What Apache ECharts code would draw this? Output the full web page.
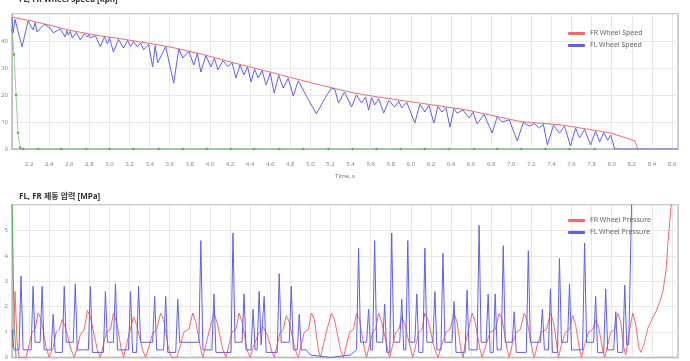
<!DOCTYPE html>
<html>
<head>
<meta charset="utf-8">
<script src="https://cdn.jsdelivr.net/npm/echarts@6/dist/echarts.min.js"></script>
<style>
  html, body { margin: 0; padding: 0; background: #fff; }
  #chart { width: 690px; height: 361px; }
</style>
</head>
<body>
<div id="chart"></div>
<script>
// tick labels on the time axis
var timeTicks = [2.2, 2.4, 2.6, 2.8, 3.0, 3.2, 3.4, 3.6, 3.8, 4.0, 4.2, 4.4, 4.6, 4.8, 5.0,
    5.2, 5.4, 5.6, 5.8, 6.0, 6.2, 6.4, 6.6, 6.8, 7.0, 7.2, 7.4, 7.6, 7.8, 8.0, 8.2, 8.4, 8.6];

// FR wheel speed [kph]
var frSpeed = [[2.03, 48.9], [2.1, 48.3], [2.2, 47.6], [2.3, 46.8], [2.4, 45.9], [2.5, 44.9],
    [2.6, 44.0], [2.7, 43.3], [2.8, 42.6], [2.9, 42.0], [3.0, 41.4], [3.1, 40.9], [3.2, 40.3],
    [3.3, 39.7], [3.4, 39.1], [3.5, 38.5], [3.6, 37.8], [3.7, 37.0], [3.8, 36.1], [3.9, 35.3],
    [4.0, 34.3], [4.1, 33.3], [4.2, 32.3], [4.3, 31.3], [4.4, 30.4], [4.5, 29.4], [4.6, 28.5],
    [4.7, 27.5], [4.8, 26.5], [4.9, 25.6], [5.0, 24.6], [5.1, 23.7], [5.2, 22.8], [5.3, 21.9],
    [5.4, 21.0], [5.5, 20.3], [5.6, 19.7], [5.7, 19.1], [5.8, 18.6], [5.9, 18.0], [6.0, 17.5],
    [6.1, 17.0], [6.2, 16.4], [6.3, 15.9], [6.4, 15.3], [6.5, 14.8], [6.6, 14.1], [6.7, 13.3],
    [6.8, 12.5], [6.9, 11.7], [7.0, 10.9], [7.1, 10.1], [7.2, 9.8], [7.3, 9.5], [7.4, 9.2],
    [7.5, 8.9], [7.6, 8.3], [7.7, 7.7], [7.8, 7.1], [7.9, 6.5], [8.0, 5.8], [8.1, 4.6],
    [8.2, 3.4], [8.23, 3.0], [8.26, 0]];

// FL wheel speed [kph]
var flSpeed = [[2.03, 48.6], [2.04, 43.0], [2.06, 48.0], [2.13, 37.8], [2.19, 47.4], [2.24, 44.1],
    [2.26, 46.8], [2.28, 43.3], [2.35, 46.2], [2.41, 44.8], [2.42, 45.5], [2.44, 43.0], [2.51, 44.5],
    [2.56, 41.5], [2.575, 43.9], [2.59, 42.2], [2.61, 43.6], [2.63, 41.1], [2.67, 43.2], [2.71, 40.4],
    [2.75, 42.7], [2.78, 41.5], [2.795, 42.4], [2.81, 41.1], [2.86, 42.0], [2.91, 37.8], [2.95, 41.5],
    [2.98, 39.0], [3.0, 41.2], [3.04, 35.9], [3.09, 40.6], [3.14, 37.4], [3.18, 40.2], [3.21, 38.0],
    [3.24, 39.7], [3.28, 37.8], [3.31, 39.3], [3.34, 36.7], [3.39, 38.8], [3.43, 30.4], [3.455, 38.3],
    [3.48, 31.9], [3.56, 37.9], [3.64, 24.4], [3.69, 37.1], [3.73, 33.7], [3.79, 36.2], [3.84, 31.1],
    [3.875, 35.4], [3.91, 28.5], [3.96, 34.6], [4.01, 30.4], [4.045, 33.6], [4.08, 29.3], [4.13, 32.7],
    [4.18, 30.5], [4.22, 32.0], [4.26, 26.3], [4.30, 31.1], [4.34, 27.4], [4.375, 30.4], [4.41, 24.8],
    [4.445, 29.6], [4.48, 26.3], [4.52, 29.0], [4.56, 23.7], [4.60, 28.2], [4.64, 20.7], [4.685, 27.3],
    [4.73, 22.6], [4.78, 26.2], [4.83, 19.6], [4.88, 25.3], [4.97, 19.0], [5.06, 13.0], [5.14, 18.5],
    [5.21, 22.6], [5.245, 22.0], [5.28, 17.0], [5.34, 21.1], [5.41, 15.6], [5.46, 20.0], [5.51, 17.0],
    [5.55, 19.3], [5.58, 14.4], [5.61, 19.0], [5.64, 16.3], [5.68, 18.6], [5.73, 13.3], [5.78, 17.9],
    [5.84, 15.6], [5.88, 17.7], [5.91, 15.2], [5.96, 17.3], [6.04, 9.6], [6.09, 16.6], [6.14, 13.7],
    [6.18, 16.2], [6.23, 9.6], [6.27, 15.8], [6.31, 13.7], [6.35, 15.3], [6.39, 8.1], [6.43, 15.0],
    [6.46, 13.3], [6.52, 14.4], [6.58, 11.5], [6.62, 13.6], [6.66, 9.3], [6.73, 12.8], [6.81, 5.9],
    [6.86, 11.9], [6.91, 10.0], [6.98, 10.8], [7.06, 3.0], [7.12, 9.8], [7.18, 8.5], [7.23, 9.4],
    [7.28, 7.8], [7.32, 9.1], [7.36, 1.5], [7.42, 8.8], [7.48, 5.9], [7.53, 8.4], [7.59, 1.1],
    [7.64, 7.8], [7.68, 4.1], [7.73, 7.2], [7.79, 1.5], [7.84, 6.6], [7.88, 2.6], [7.92, 6.1],
    [7.96, 3.3], [7.99, 5.2], [8.03, 0], [8.66, 0]];

// third speed channel (green, no legend entry)
var refSpeed = [[2.03, 44], [2.05, 35], [2.07, 20], [2.09, 6], [2.11, 0.5], [2.14, 0], [2.29, 0],
    [2.52, 0], [2.77, 0], [3.00, 0], [3.24, 0], [3.49, 0], [3.73, 0], [3.97, 0], [4.21, 0], [4.44, 0],
    [4.69, 0], [4.93, 0], [5.18, 0], [5.42, 0], [5.66, 0], [5.90, 0], [6.14, 0], [6.38, 0], [6.63, 0],
    [6.86, 0], [7.10, 0], [7.34, 0], [7.58, 0], [7.83, 0]];

// FR wheel pressure [MPa]
var frPressure = [[2.03, 0.4], [2.05, 1.2], [2.06, 2.6], [2.08, 0.6], [2.10, 0],
    [2.17, 0], [2.20, 0.5], [2.23, 1.0], [2.26, 1.1], [2.29, 1.75], [2.32, 1.5], [2.37, 0.4], [2.40, 0],
    [2.44, 0.4], [2.47, 1.0], [2.50, 1.1], [2.53, 1.5], [2.56, 1.2], [2.62, 0.3], [2.65, 0],
    [2.68, 0.4], [2.71, 0.9], [2.75, 1.1], [2.78, 1.85], [2.81, 1.6], [2.88, 0.3], [2.91, 0],
    [2.94, 0.5], [2.97, 1.0], [3.01, 1.1], [3.04, 1.75], [3.07, 1.4], [3.12, 0.3], [3.14, 0],
    [3.17, 0.5], [3.20, 1.0], [3.24, 1.6], [3.27, 1.3], [3.33, 0.3], [3.36, 0],
    [3.40, 0.5], [3.43, 0.95], [3.47, 1.1], [3.51, 1.75], [3.54, 1.5], [3.59, 0.3], [3.62, 0],
    [3.67, 0], [3.71, 0.5], [3.74, 1.0], [3.79, 1.1], [3.83, 1.75], [3.86, 1.4], [3.91, 0.3], [3.93, 0],
    [3.96, 0.5], [3.99, 1.0], [4.04, 1.75], [4.07, 1.4], [4.13, 0.3], [4.16, 0],
    [4.19, 0.5], [4.22, 1.0], [4.26, 1.1], [4.29, 1.75], [4.32, 1.4], [4.37, 0.3], [4.40, 0],
    [4.44, 0.5], [4.48, 0.9], [4.53, 1.2], [4.57, 0.9], [4.62, 0.2], [4.64, 0],
    [4.67, 0.5], [4.70, 1.0], [4.73, 1.1], [4.76, 1.65], [4.79, 1.4], [4.85, 0.3], [4.88, 0],
    [4.91, 0.5], [4.94, 1.0], [4.98, 1.1], [5.01, 1.75], [5.04, 1.5], [5.08, 0.3], [5.10, 0],
    [5.13, 0.5], [5.16, 1.0], [5.21, 1.75], [5.24, 1.5], [5.30, 0.3], [5.33, 0],
    [5.36, 0.5], [5.39, 1.0], [5.43, 1.1], [5.46, 1.75], [5.49, 1.5], [5.54, 0.3], [5.56, 0],
    [5.59, 0.5], [5.62, 1.0], [5.65, 1.1], [5.68, 1.75], [5.71, 1.4], [5.77, 0.3], [5.79, 0],
    [5.82, 0.5], [5.85, 1.0], [5.88, 1.1], [5.91, 1.6], [5.94, 1.3], [6.00, 0.3], [6.02, 0],
    [6.05, 0.5], [6.08, 1.0], [6.11, 1.1], [6.14, 1.75], [6.17, 1.5], [6.24, 0.3], [6.27, 0],
    [6.31, 0.5], [6.35, 1.0], [6.39, 1.1], [6.43, 1.75], [6.46, 1.4], [6.50, 0.3], [6.52, 0],
    [6.54, 0.5], [6.57, 1.0], [6.61, 1.75], [6.64, 1.4], [6.69, 0.3], [6.71, 0],
    [6.75, 0.5], [6.79, 1.0], [6.84, 1.1], [6.88, 1.75], [6.91, 1.5], [6.96, 0.3], [6.98, 0],
    [7.01, 0.5], [7.05, 1.0], [7.09, 1.1], [7.13, 1.75], [7.16, 1.4], [7.21, 0.3], [7.23, 0],
    [7.26, 0.5], [7.30, 1.0], [7.35, 1.1], [7.39, 1.75], [7.42, 1.4], [7.46, 0.3], [7.47, 0],
    [7.50, 0.5], [7.54, 1.0], [7.58, 1.1], [7.61, 1.65], [7.64, 1.3], [7.68, 0.3], [7.70, 0],
    [7.73, 0.5], [7.77, 1.0], [7.81, 1.1], [7.84, 1.45], [7.87, 1.2], [7.91, 0.3], [7.93, 0],
    [7.96, 0.5], [7.99, 1.0], [8.03, 1.1], [8.06, 1.75], [8.09, 1.4], [8.12, 0.4], [8.14, 0.1],
    [8.17, 0.9], [8.21, 1.75], [8.24, 1.3], [8.27, 0.4], [8.29, 0.2],
    [8.32, 0.5], [8.36, 1.15], [8.40, 1.5], [8.44, 1.8], [8.48, 2.2], [8.51, 2.6], [8.54, 3.4],
    [8.56, 4.5], [8.59, 5.9], [8.62, 6.5]];

// FL wheel pressure [MPa]
var flPressure = [[2.03, 1.1], [2.05, 0.3], [2.10, 0.3], [2.12, 3.2], [2.14, 0.3], [2.22, 0.3],
    [2.24, 2.8], [2.26, 0.6], [2.31, 0.6], [2.33, 2.8], [2.35, 0.3], [2.42, 0.3], [2.44, 1.7],
    [2.46, 0.2], [2.53, 0.2], [2.55, 2.8], [2.57, 0.6], [2.64, 0.6], [2.66, 2.9], [2.68, 0.3],
    [2.79, 0.3], [2.81, 2.8], [2.83, 0.2], [2.94, 0.2], [2.96, 2.6], [2.98, 0.6], [3.04, 0.6],
    [3.06, 2.9], [3.08, 0.3], [3.19, 0.3], [3.21, 2.6], [3.23, 0.2], [3.27, 0.2], [3.29, 2.8],
    [3.31, 0.6], [3.43, 0.6], [3.45, 2.4], [3.47, 0.3], [3.54, 0.3], [3.56, 2.4], [3.58, 0.2],
    [3.66, 0.2], [3.68, 2.3], [3.70, 0.6], [3.89, 0.6], [3.91, 4.6], [3.93, 0.3], [4.02, 0.3],
    [4.04, 2.5], [4.06, 0.2], [4.21, 0.2], [4.23, 4.9], [4.25, 0.6], [4.32, 0.6], [4.34, 2.5],
    [4.36, 0.3], [4.41, 0.3], [4.43, 1.9], [4.45, 0.3], [4.47, 0.3], [4.49, 2.6], [4.51, 0.5],
    [4.52, 0.5], [4.54, 2.4], [4.56, 0.2], [4.67, 0.2], [4.69, 3.3], [4.71, 0.6], [4.79, 0.6],
    [4.81, 2.8], [4.83, 0.3], [4.87, 0.3], [4.89, 1.7], [4.91, 0.3], [4.96, 0.3], [5.00, 0.1],
    [5.20, 0], [5.40, 0.1], [5.46, 0.3], [5.48, 4.3], [5.50, 0.6], [5.56, 0.6], [5.58, 1.9],
    [5.60, 0.3], [5.62, 0.3], [5.64, 4.6], [5.66, 0.6], [5.72, 0.6], [5.74, 2.1], [5.76, 0.2],
    [5.79, 0.2], [5.81, 4.9], [5.83, 0.6], [5.89, 0.6], [5.91, 2.3], [5.93, 0.3], [5.95, 0.3],
    [5.97, 4.6], [5.99, 0.6], [6.04, 0.6], [6.06, 2.5], [6.08, 0.2], [6.12, 0.2], [6.14, 4.3],
    [6.16, 0.6], [6.22, 0.6], [6.24, 2.6], [6.26, 0.3], [6.30, 0.3], [6.32, 4.1], [6.34, 0.6],
    [6.41, 0.6], [6.43, 2.2], [6.45, 0.2], [6.54, 0.2], [6.56, 2.65], [6.58, 0.3], [6.66, 0.3],
    [6.68, 5.2], [6.70, 0.6], [6.75, 0.6], [6.77, 2.5], [6.79, 0.2], [6.82, 0.2], [6.84, 2.5],
    [6.86, 0.3], [6.90, 0.3], [6.92, 4.4], [6.94, 0.6], [7.01, 0.6], [7.03, 1.8], [7.05, 0.2],
    [7.15, 0.2], [7.17, 4.2], [7.19, 0.6], [7.29, 0.6], [7.31, 1.9], [7.33, 0.3], [7.37, 0.3],
    [7.39, 2.7], [7.41, 0.2], [7.46, 0.2], [7.48, 3.9], [7.50, 0.6], [7.56, 0.6], [7.58, 2.9],
    [7.60, 0.3], [7.71, 0.3], [7.73, 4.5], [7.75, 0.6], [7.82, 0.6], [7.84, 2.4], [7.86, 0.2],
    [7.92, 0.2], [7.94, 2.7], [7.96, 0.3], [8.02, 0.3], [8.04, 1.8], [8.06, 0.2], [8.11, 0.2],
    [8.13, 2.85], [8.15, 0.5], [8.17, 0.5], [8.20, 6.5]];

// third pressure channel (green, no legend entry)
var refPressure = [[2.03, 6.3], [2.04, 4.0], [2.05, 1.5], [2.07, 0]];

var RED = '#f36a6a', BLUE = '#6060ee', GREEN = '#4cb64c';
var FONT = '"Noto Sans", "Noto Sans CJK KR", sans-serif';

var chart = echarts.init(document.getElementById('chart'));

function timeAxis(idx) {
    return {
        type: 'value', gridIndex: idx, min: 2.03, max: 8.66,
        name: 'Time, s', nameLocation: 'middle', nameGap: 24,
        nameTextStyle: { fontSize: 6, color: '#777', fontFamily: FONT },
        axisLine: { lineStyle: { color: '#bbb' } },
        axisTick: { show: false, customValues: timeTicks },
        axisLabel: {
            customValues: timeTicks, fontSize: 6, color: '#888', margin: 12, fontFamily: FONT,
            formatter: function (v) { return v.toFixed(1); }
        },
        splitLine: { show: true, lineStyle: { color: '#e8e8e8' } }
    };
}

function valueAxis(idx, max, step) {
    return {
        type: 'value', gridIndex: idx, min: 0, max: max, interval: step,
        axisLine: { show: true, lineStyle: { color: '#bbb' } },
        axisTick: { show: false },
        axisLabel: { fontSize: 6, color: '#888', margin: 4, showMaxLabel: false, fontFamily: FONT },
        splitLine: { lineStyle: { color: '#e8e8e8' } }
    };
}

function line(name, data, color, xi, yi) {
    return {
        name: name, type: 'line', xAxisIndex: xi, yAxisIndex: yi, data: data,
        showSymbol: false, animation: false,
        lineStyle: { color: color, width: 1 }, itemStyle: { color: color }
    };
}

// green channel shows small markers along its flat part
var refLine = line('Ref Speed', refSpeed, GREEN, 0, 0);
refLine.showSymbol = true;
refLine.showAllSymbol = true;
refLine.symbol = 'diamond';
refLine.symbolSize = 3;
refLine.lineStyle.opacity = 0.6;

var option = {
    backgroundColor: '#fff',
    animation: false,
    title: [
        { text: 'FL, FR Wheel Speed [kph]', left: 14, top: -9,
          textStyle: { fontSize: 8, fontWeight: 'bold', color: '#333', fontFamily: FONT } },
        { text: 'FL, FR 제동 압력 [MPa]', left: 14, top: 188,
          textStyle: { fontSize: 8, fontWeight: 'bold', color: '#333', fontFamily: FONT } }
    ],
    legend: [
        { data: ['FR Wheel Speed', 'FL Wheel Speed'], orient: 'vertical', left: 563, top: 25,
          icon: 'roundRect', itemWidth: 17, itemHeight: 3, itemGap: 5,
          textStyle: { fontSize: 7, color: '#666', fontFamily: FONT } },
        { data: ['FR Wheel Pressure', 'FL Wheel Pressure'], orient: 'vertical', left: 563, top: 212,
          icon: 'roundRect', itemWidth: 17, itemHeight: 3, itemGap: 5,
          textStyle: { fontSize: 7, color: '#666', fontFamily: FONT } }
    ],
    grid: [
        { left: 12, right: 12, top: 14, height: 135, outerBoundsMode: 'none',
          show: true, borderColor: '#cfcfcf', borderWidth: 2 },
        { left: 12, right: 12, top: 205, height: 152.5, outerBoundsMode: 'none',
          show: true, borderColor: '#cfcfcf', borderWidth: 2 }
    ],
    xAxis: [timeAxis(0), timeAxis(1)],
    yAxis: [valueAxis(0, 50, 10), valueAxis(1, 6, 1)],
    series: [
        refLine,
        line('FR Wheel Speed', frSpeed, RED, 0, 0),
        line('FL Wheel Speed', flSpeed, BLUE, 0, 0),
        line('Ref Pressure', refPressure, GREEN, 1, 1),
        line('FR Wheel Pressure', frPressure, RED, 1, 1),
        line('FL Wheel Pressure', flPressure, BLUE, 1, 1)
    ]
};

chart.setOption(option);
</script>
</body>
</html>
